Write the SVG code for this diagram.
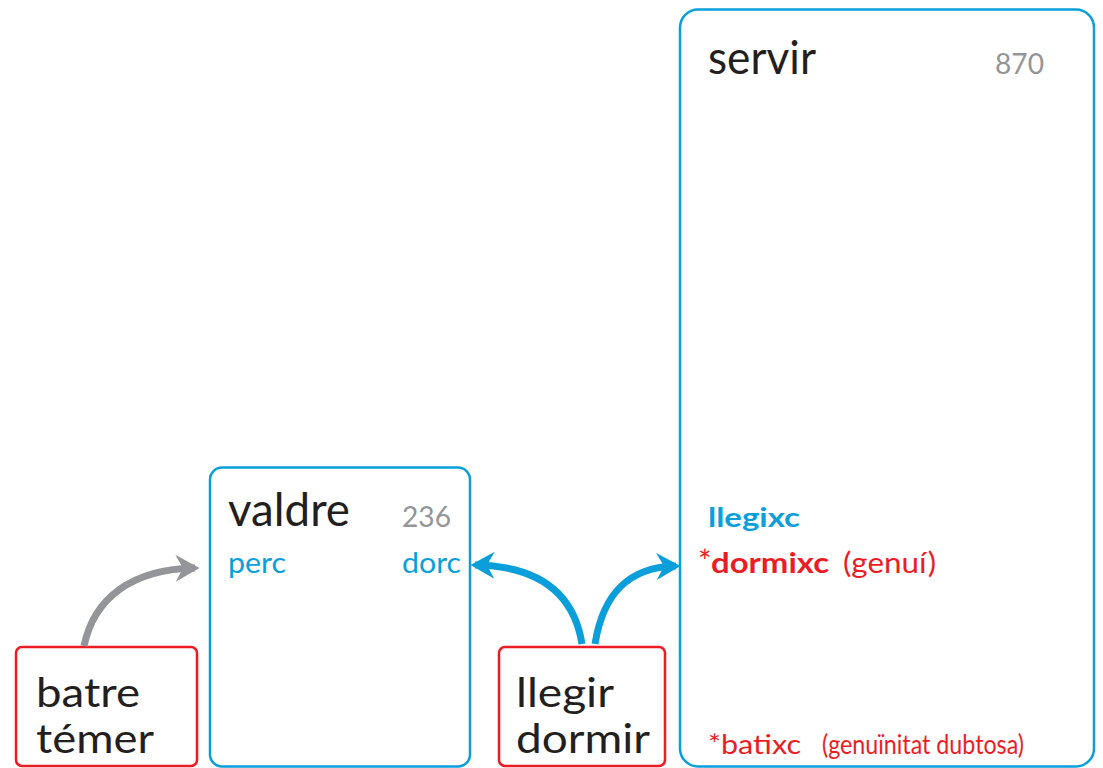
<svg xmlns="http://www.w3.org/2000/svg" width="1103" height="768" viewBox="0 0 1103 768">
<defs>
<style>
.t{font-family:Lato,"Open Sans","Liberation Sans",sans-serif}
.blk{fill:#231f20}
.gry{fill:#939598}
.blu{fill:#0a9fdb}
.red{fill:#ed1c24}
.bbox{fill:none;stroke:#0a9fdb;stroke-width:2.5}
.rbox{fill:none;stroke:#ed1c24;stroke-width:2.5}
.arr{fill:none;stroke-width:7}
</style>
<marker id="ag" markerUnits="userSpaceOnUse" markerWidth="30" markerHeight="30" viewBox="-16 -10 20 20" refX="0" refY="0" orient="auto">
<path d="M3,0 L-13,-9 L-8,0 L-13,9 Z" fill="#939598"/>
</marker>
<marker id="ab" markerUnits="userSpaceOnUse" markerWidth="30" markerHeight="30" viewBox="-16 -10 20 20" refX="0" refY="0" orient="auto">
<path d="M3,0 L-13,-9 L-8,0 L-13,9 Z" fill="#0a9fdb"/>
</marker>
</defs>
<rect width="1103" height="768" fill="#ffffff"/>

<g id="servir">
<rect class="bbox" x="680" y="9.5" width="414" height="757" rx="18"/>
<text class="t blk" x="708" y="74" font-size="46" textLength="108" lengthAdjust="spacingAndGlyphs">servir</text>
<text class="t gry" x="995" y="74" font-size="29" textLength="49" lengthAdjust="spacingAndGlyphs">870</text>
<text class="t blu" x="708" y="527" font-size="27" font-weight="bold" textLength="92" lengthAdjust="spacingAndGlyphs">llegixc</text>
<text class="t red" x="698" y="573" font-size="28"><tspan font-size="32">*</tspan><tspan font-weight="bold" x="711" textLength="118" lengthAdjust="spacingAndGlyphs">dormixc</tspan><tspan x="843" textLength="93" lengthAdjust="spacingAndGlyphs">(genuí)</tspan></text>
<text class="t red" x="708" y="754" font-size="26"><tspan textLength="93" lengthAdjust="spacingAndGlyphs">*batixc</tspan><tspan x="822" font-size="26" textLength="202" lengthAdjust="spacingAndGlyphs">(genuïnitat dubtosa)</tspan></text>
</g>

<g id="valdre">
<rect class="bbox" x="210" y="467.5" width="260" height="299" rx="12"/>
<text class="t blk" x="228" y="526" font-size="46" textLength="122" lengthAdjust="spacingAndGlyphs">valdre</text>
<text class="t gry" x="402" y="527" font-size="29" textLength="49" lengthAdjust="spacingAndGlyphs">236</text>
<text class="t blu" x="228" y="573" font-size="28" textLength="58" lengthAdjust="spacingAndGlyphs">perc</text>
<text class="t blu" x="402" y="573" font-size="28" textLength="59" lengthAdjust="spacingAndGlyphs">dorc</text>
</g>

<g id="batre">
<rect class="rbox" x="16" y="647" width="181" height="119" rx="6"/>
<text class="t blk" font-size="40"><tspan x="36" y="707" textLength="104" lengthAdjust="spacingAndGlyphs">batre</tspan><tspan x="36" y="753" textLength="118" lengthAdjust="spacingAndGlyphs">témer</tspan></text>
</g>

<g id="llegir">
<rect class="rbox" x="499" y="647" width="166" height="119" rx="6"/>
<text class="t blk" font-size="40"><tspan x="516" y="707" textLength="98" lengthAdjust="spacingAndGlyphs">llegir</tspan><tspan x="516" y="753" textLength="134" lengthAdjust="spacingAndGlyphs">dormir</tspan></text>
</g>

<g id="connectors">
<path class="arr" stroke="#939598" d="M84,646 C94,598 132,569 195,568" marker-end="url(#ag)"/>
<path class="arr" stroke="#0a9fdb" d="M582,644 C574,594 540,566 475,565" marker-end="url(#ab)"/>
<path class="arr" stroke="#0a9fdb" d="M595,644 C603,594 628,567 676,566" marker-end="url(#ab)"/>
</g>
</svg>
